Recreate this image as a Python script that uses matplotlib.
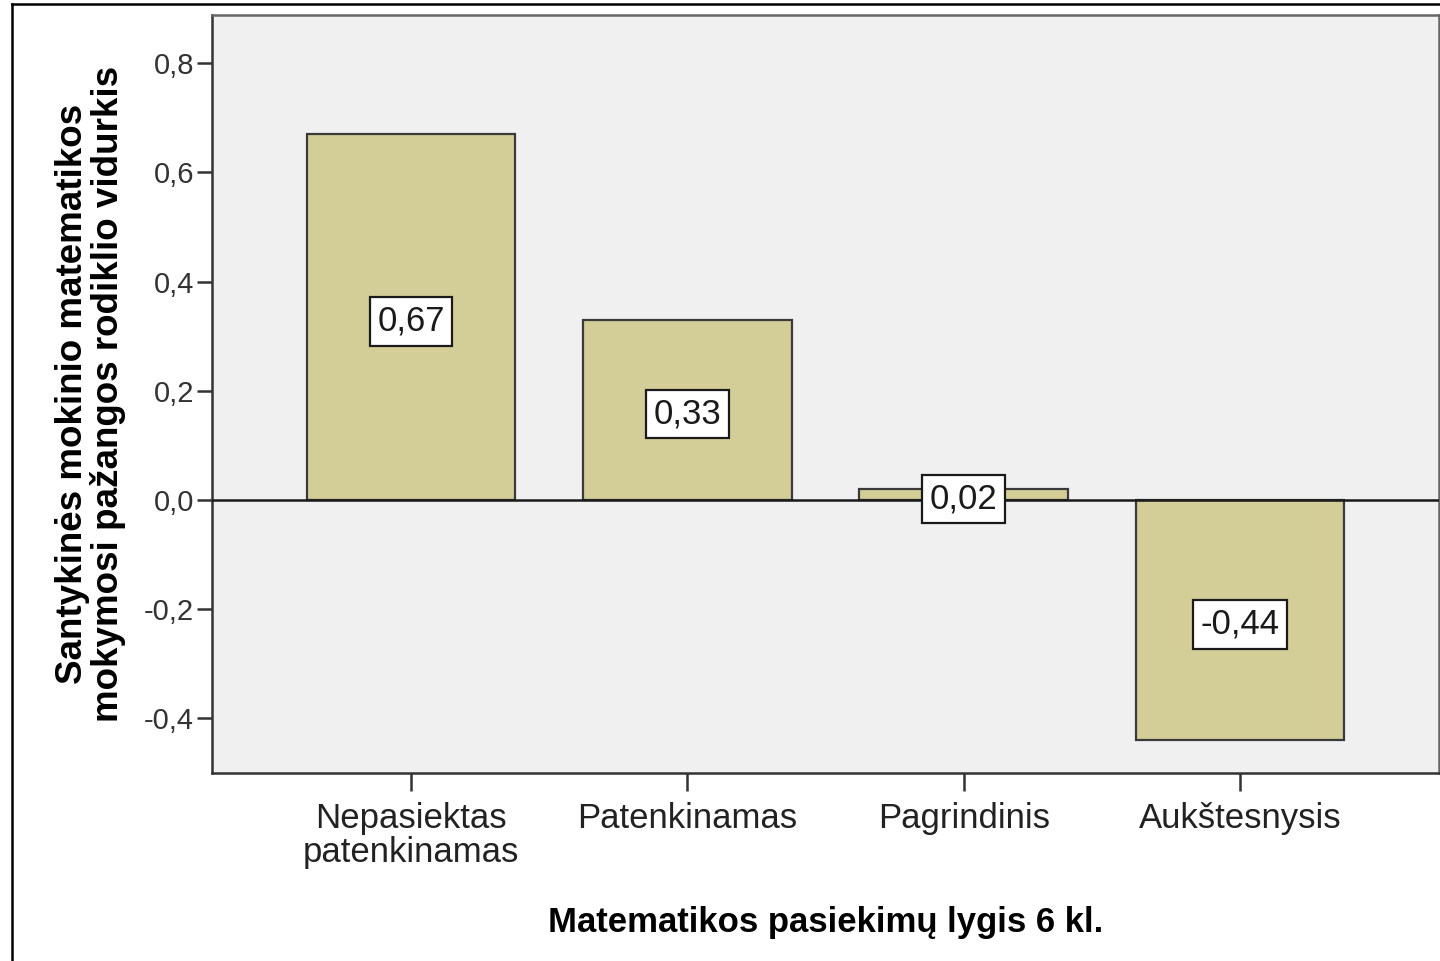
import matplotlib.pyplot as plt
from matplotlib.lines import Line2D

plt.rcParams['font.family'] = ['Liberation Sans', 'DejaVu Sans']

# data
categories = ['Nepasiektas\npatenkinamas', 'Patenkinamas', 'Pagrindinis', 'Aukštesnysis']
values = [0.67, 0.33, 0.02, -0.44]
value_labels = ['0,67', '0,33', '0,02', '-0,44']
yticks = [-0.4, -0.2, 0.0, 0.2, 0.4, 0.6, 0.8]
ytick_labels = ['-0,4', '-0,2', '0,0', '0,2', '0,4', '0,6', '0,8']

bar_color = '#D3CE97'
edge_color = '#3a3a3a'

fig = plt.figure(figsize=(14.4, 9.61), dpi=100)
ax = fig.add_axes([212 / 1440, 1 - 773 / 961, (1439 - 212) / 1440, (773 - 15) / 961])
ax.set_facecolor('#F0F0F0')

x = range(len(categories))
ax.bar(x, values, width=0.756, color=bar_color, edgecolor=edge_color, linewidth=1.6, zorder=2)
ax.axhline(0, color='#1a1a1a', linewidth=1.8, zorder=3)

# value labels in white boxes, centred in the bars
for xi, v, lab in zip(x, values, value_labels):
    ax.text(xi, v / 2 - 0.008, lab, ha='center', va='center', fontsize=25, color='#1a1a1a', zorder=4,
            bbox=dict(boxstyle='square,pad=0.22', facecolor='white', edgecolor='#1a1a1a', linewidth=1.6))

ax.set_xlim(-0.72, 3.72)
ax.set_ylim(-0.5, 0.888)
ax.set_xticks(list(x))
ax.set_xticklabels(categories, fontsize=25, color='#222222', linespacing=1.05)
ax.set_yticks(yticks)
ax.set_yticklabels(ytick_labels, fontsize=21, color='#333333')
ax.tick_params(axis='x', length=13, width=1.8, color='#333333', pad=8)
ax.tick_params(axis='y', length=11, width=1.8, color='#333333', pad=2)

for side in ['left', 'bottom']:
    ax.spines[side].set_color('#333333')
    ax.spines[side].set_linewidth(1.8)
for side in ['top', 'right']:
    ax.spines[side].set_color('#666666')
    ax.spines[side].set_linewidth(1.8)

ax.set_xlabel('Matematikos pasiekimų lygis 6 kl.', fontsize=25, fontweight='bold', labelpad=26)
ax.set_ylabel('Santykinės mokinio matematikos\nmokymosi pažangos rodiklio vidurkis',
              fontsize=26.5, fontweight='bold', labelpad=13, linespacing=1.0)

# outer frame (left and top edges visible)
fig.add_artist(Line2D([12 / 1440, 12 / 1440], [0, 1 - 4 / 961], transform=fig.transFigure,
                      color='black', linewidth=1.8))
fig.add_artist(Line2D([12 / 1440, 1], [1 - 4 / 961, 1 - 4 / 961], transform=fig.transFigure,
                      color='black', linewidth=1.8))

fig.savefig('out.png', dpi=100)
